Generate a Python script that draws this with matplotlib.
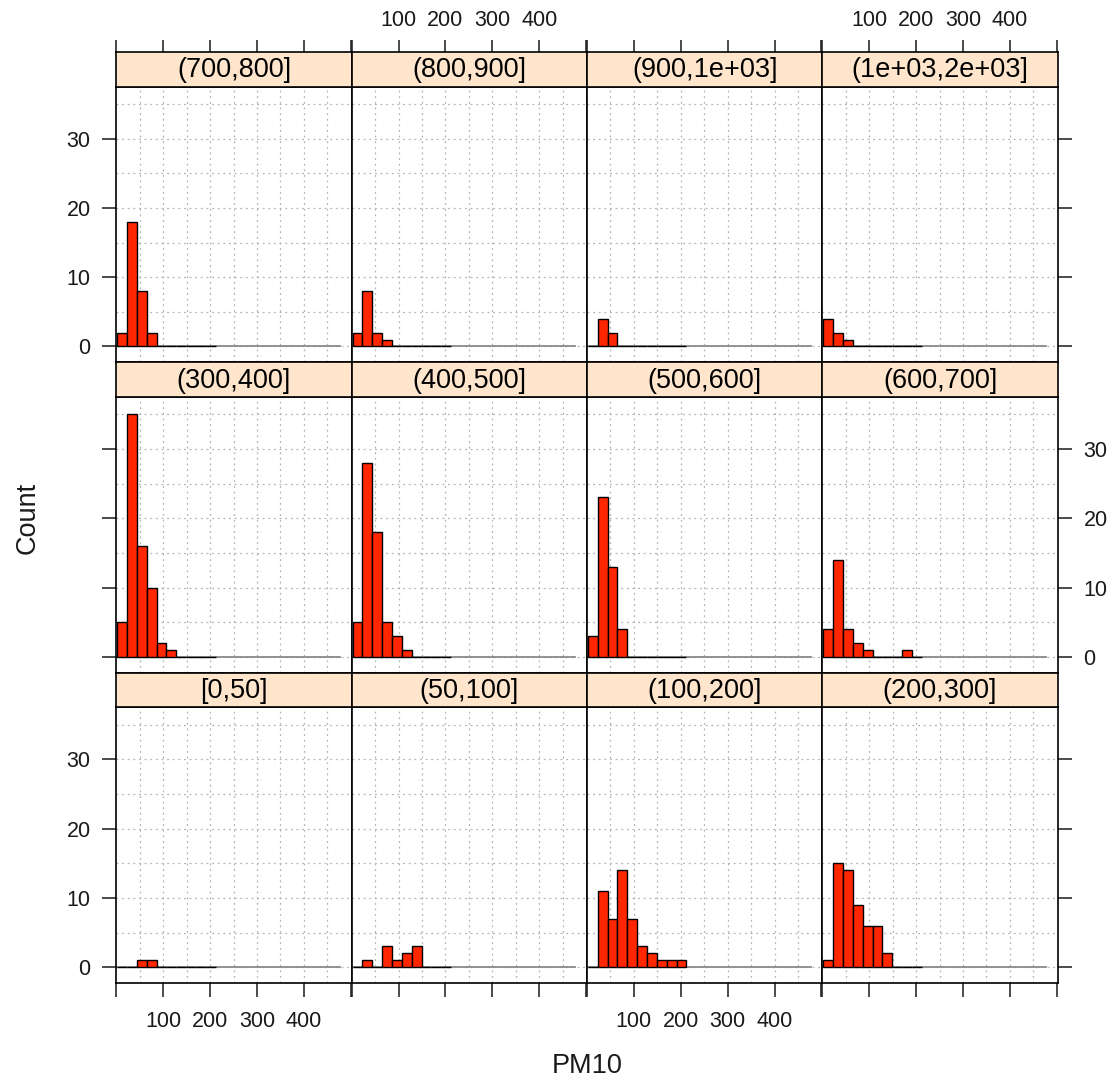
import matplotlib
matplotlib.use("Agg")
import matplotlib.pyplot as plt
import numpy as np

plt.rcParams['font.family'] = ['Liberation Sans', 'DejaVu Sans']

# PM10 bin edges (shared by all panels)
breaks = [2, 23, 44, 65, 86, 107, 128, 149, 170, 191, 212]

# panel labels, laid out as on the page (top row first)
labels_top = ["(700,800]", "(800,900]", "(900,1e+03]", "(1e+03,2e+03]"]
labels_mid = ["(300,400]", "(400,500]", "(500,600]", "(600,700]"]
labels_bot = ["[0,50]", "(50,100]", "(100,200]", "(200,300]"]

# counts per bin, one list per panel
counts_700_800 = [2, 18, 8, 2, 0, 0, 0, 0, 0, 0]
counts_800_900 = [2, 8, 2, 1, 0, 0, 0, 0, 0, 0]
counts_900_1e3 = [0, 4, 2, 0, 0, 0, 0, 0, 0, 0]
counts_1e3_2e3 = [4, 2, 1, 0, 0, 0, 0, 0, 0, 0]
counts_300_400 = [5, 35, 16, 10, 2, 1, 0, 0, 0, 0]
counts_400_500 = [5, 28, 18, 5, 3, 1, 0, 0, 0, 0]
counts_500_600 = [3, 23, 13, 4, 0, 0, 0, 0, 0, 0]
counts_600_700 = [4, 14, 4, 2, 1, 0, 0, 0, 1, 0]
counts_0_50 = [0, 0, 1, 1, 0, 0, 0, 0, 0, 0]
counts_50_100 = [0, 1, 0, 3, 1, 2, 3, 0, 0, 0]
counts_100_200 = [0, 11, 7, 14, 7, 3, 2, 1, 1, 1]
counts_200_300 = [1, 15, 14, 9, 6, 6, 2, 0, 0, 0]

x_ticks = [0, 100, 200, 300, 400, 500]
x_ticklabels = ["", "100", "200", "300", "400", ""]
y_ticks = [0, 10, 20, 30]

rows = [
    (labels_top, [counts_700_800, counts_800_900, counts_900_1e3, counts_1e3_2e3]),
    (labels_mid, [counts_300_400, counts_400_500, counts_500_600, counts_600_700]),
    (labels_bot, [counts_0_50, counts_50_100, counts_100_200, counts_200_300]),
]

W, H = 1120, 1082
fig = plt.figure(figsize=(W / 100, H / 100), dpi=100)

left0, col_w = 116.3, 235.35
top0, strip_h, panel_h = 52.0, 34.6, 275.8
xlim = (0, 502)
ylim = (-2.3, 37.5)
bar_col = "#ff2600"
strip_col = "#ffe5cc"
tick_fs = 15.5
big_fs = 19.5

edges = np.array(breaks)
lefts = edges[:-1]
widths = np.diff(edges)


def frac(x, y, w, h):
    return [x / W, 1 - (y + h) / H, w / W, h / H]


for r, (labels, counts_row) in enumerate(rows):
    y_strip = top0 + r * (strip_h + panel_h)
    y_panel = y_strip + strip_h
    for c in range(4):
        x = left0 + c * col_w
        ax = fig.add_axes(frac(x, y_panel, col_w, panel_h))
        ax.set_xlim(*xlim)
        ax.set_ylim(*ylim)

        # dotted background grid
        for gx in range(50, 500, 50):
            ax.axvline(gx, color="#b4b4b4", lw=0.9, ls=(0, (1.5, 3)), zorder=0)
        for gy in range(0, 40, 5):
            ax.axhline(gy, color="#b4b4b4", lw=0.9, ls=(0, (1.5, 3)), zorder=0)

        ax.plot([0, 477], [0, 0], color="#8a8a8a", lw=1.3, zorder=1)
        ax.bar(lefts, counts_row[c], width=widths, align="edge",
               color=bar_col, edgecolor="black", linewidth=1.0, zorder=2)

        for sp in ax.spines.values():
            sp.set_linewidth(1.2)
            sp.set_color("black")

        ax.set_xticks(x_ticks)
        ax.set_xticklabels(x_ticklabels)
        ax.set_yticks(y_ticks)
        ax.tick_params(axis="both", direction="out", length=10, width=1.1,
                       labelsize=tick_fs, colors="#1a1a1a")
        ax.tick_params(axis="x", pad=10)
        ax.tick_params(axis="y", pad=8.5)

        show_bottom = r == 2
        ax.tick_params(axis="x", top=False, bottom=show_bottom,
                       labeltop=False, labelbottom=show_bottom and c in (0, 2))
        ax.tick_params(axis="y", left=(c == 0), right=(c == 3),
                       labelleft=(c == 0 and r in (0, 2)),
                       labelright=(c == 3 and r == 1))

        # strip with the shingle label
        sx = fig.add_axes(frac(x, y_strip, col_w, strip_h))
        sx.set_facecolor(strip_col)
        sx.set_xlim(*xlim)
        sx.set_ylim(0, 1)
        for sp in sx.spines.values():
            sp.set_linewidth(1.2)
        sx.text(0.5, 0.47, labels[c], transform=sx.transAxes, ha="center",
                va="center", fontsize=big_fs, color="black")
        sx.set_yticks([])
        if r == 0:
            sx.set_xticks(x_ticks)
            sx.set_xticklabels(x_ticklabels)
            sx.tick_params(axis="x", direction="out", length=9, width=1.1,
                           labelsize=tick_fs, colors="#1a1a1a", pad=6,
                           top=True, bottom=False, labelbottom=False,
                           labeltop=c in (1, 3))
        else:
            sx.set_xticks([])

fig.text(28 / W, 1 - 518 / H, "Count", rotation=90, ha="center", va="center",
         fontsize=big_fs, color="#1a1a1a")
fig.text(587 / W, 1 - 1066 / H, "PM10", ha="center", va="center",
         fontsize=big_fs, color="#1a1a1a")

fig.savefig("out.png", dpi=100)
